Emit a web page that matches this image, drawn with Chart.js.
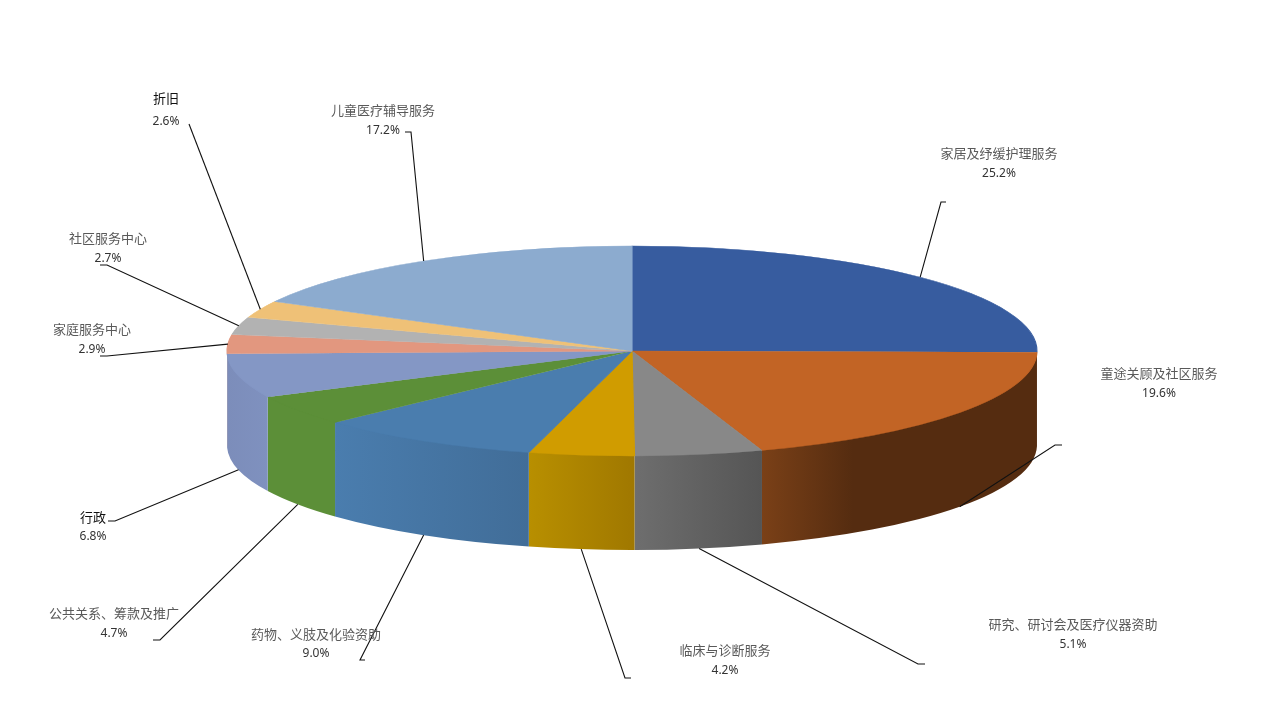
<!DOCTYPE html>
<html>
<head>
<meta charset="utf-8">
<title>3D pie</title>
<script src="https://cdn.jsdelivr.net/npm/chart.js@4/dist/chart.umd.min.js"></script>
<style>
    html, body { margin: 0; padding: 0; background: #fff; }
    canvas { display: block; }
</style>
</head>
<body>
<canvas id="pieChart" width="1280" height="720"></canvas>
<script>
// Values, clockwise from 12 o'clock
const categories = ['家居及纾缓护理服务', '童途关顾及社区服务', '研究、研讨会及医疗仪器资助', '临床与诊断服务',
    '药物、义肢及化验资助', '公共关系、筹款及推广', '行政', '家庭服务中心', '社区服务中心', '折旧', '儿童医疗辅导服务'];
const shares = [25.2, 19.6, 5.1, 4.2, 9.0, 4.7, 6.8, 2.9, 2.7, 2.6, 17.2];

// Colours of the top face and of the side wall (left and right end of its gradient)
const topColors = ['#375c9f', '#c26425', '#888888', '#d09c00', '#4a7dae', '#5c8f38', '#8497c5', '#e2977f', '#b2b2b2', '#efc177', '#8cabcf'];
const wallFrom = ['#2c4a80', '#7a4017', '#6e6e6e', '#b88f00', '#4a7dae', '#5c8f38', '#7c8dba', '#b57a66', '#8e8e8e', '#bf9a5f', '#7089a6'];
const wallTo = ['#2c4a80', '#552c10', '#555555', '#a07800', '#416d98', '#5c8f38', '#7f91bf', '#b57a66', '#8e8e8e', '#bf9a5f', '#7089a6'];

// Label centres [x, title y, percent y] and where each leader line ends
const labelPos = [[999, 153, 174], [1159, 373, 394], [1073, 624, 645], [725, 650, 671], [316, 634, 654],
    [114, 613, 634], [93, 517, 537], [92, 329, 350], [108, 238, 259], [166, 98, 122], [383, 110, 131]];
const leaderEnds = [
    [[946, 202], [941, 202]], [[1062, 445], [1055, 445]], [[925, 664], [918, 664]], [[631, 678], [625, 678]],
    [[365, 660], [360, 660]], [[153, 640], [160, 640]], [[108, 521], [115, 521]], [[100, 356], [107, 356]],
    [[100, 265], [107, 265]], [[189, 124]], [[405, 132], [411, 132]]
];
const darkTitles = ['行政', '折旧'];

// Shape of the tilted disc on the page
const disc = { x: 632, y: 351, rx: 405, ry: 105, depth: 94 };

const cjkFont = '13px "Noto Sans CJK SC", sans-serif';
const pctFont = '12px "Noto Sans", sans-serif';

// Squash the pie into an ellipse and draw the wall below it
const tiltPlugin = {
    id: 'tilt',
    beforeDatasetsDraw(chart) {
        const ctx = chart.ctx;
        const arcs = chart.getDatasetMeta(0).data;

        arcs.forEach((arc, i) => {
            // only the part facing the viewer has a wall
            const a1 = Math.max(arc.startAngle, 0);
            const a2 = Math.min(arc.endAngle, Math.PI);
            if (a2 <= a1) return;

            const x1 = disc.x + disc.rx * Math.cos(a1);
            const x2 = disc.x + disc.rx * Math.cos(a2);
            const grad = ctx.createLinearGradient(Math.min(x1, x2), 0, Math.max(x1, x2), 0);
            grad.addColorStop(0, wallFrom[i]);
            grad.addColorStop(i === 1 ? 0.33 : 1, wallTo[i]);
            if (i === 1) grad.addColorStop(1, wallTo[i]);

            // a little overlap so no white seams show between the parts
            ctx.save();
            ctx.beginPath();
            ctx.ellipse(disc.x, disc.y - 2, disc.rx, disc.ry, 0, a1, a2);
            ctx.ellipse(disc.x, disc.y + disc.depth, disc.rx, disc.ry, 0, a2, a1, true);
            ctx.closePath();
            ctx.fillStyle = grad;
            ctx.strokeStyle = wallTo[i];
            ctx.lineWidth = 0.4;
            ctx.fill();
            ctx.restore();
        });

        const first = arcs[0];
        ctx.save();
        ctx.translate(disc.x, disc.y);
        ctx.scale(disc.rx / first.outerRadius, disc.ry / first.outerRadius);
        ctx.translate(-first.x, -first.y);
    },
    afterDatasetsDraw(chart) {
        const ctx = chart.ctx;
        ctx.restore();

        const arcs = chart.getDatasetMeta(0).data;
        arcs.forEach((arc, i) => {
            // leader line starts on the rim at the middle of the slice
            const mid = (arc.startAngle + arc.endAngle) / 2;
            const sx = disc.x + disc.rx * Math.cos(mid);
            let sy = disc.y + disc.ry * Math.sin(mid);
            if (Math.sin(mid) > 0) sy += disc.depth;

            ctx.save();
            ctx.strokeStyle = '#111111';
            ctx.lineWidth = 1.1;
            ctx.beginPath();
            ctx.moveTo(sx, sy);
            leaderEnds[i].slice().reverse().forEach(p => ctx.lineTo(p[0], p[1]));
            ctx.stroke();

            const [lx, ty, py] = labelPos[i];
            ctx.textAlign = 'center';
            ctx.textBaseline = 'middle';
            ctx.font = cjkFont;
            ctx.fillStyle = darkTitles.includes(categories[i]) ? '#111111' : '#595959';
            ctx.fillText(categories[i], lx, ty);
            ctx.font = pctFont;
            ctx.fillStyle = '#333333';
            ctx.fillText(shares[i].toFixed(1) + '%', lx, py);
            ctx.restore();
        });
    }
};

new Chart(document.getElementById('pieChart'), {
    type: 'pie',
    data: {
        labels: categories,
        datasets: [{
            data: shares,
            backgroundColor: topColors,
            borderColor: topColors,
            borderWidth: 1,
            hoverOffset: 0
        }]
    },
    options: {
        responsive: false,
        animation: false,
        plugins: {
            legend: { display: false },
            tooltip: { enabled: false }
        }
    },
    plugins: [tiltPlugin]
});
</script>
</body>
</html>
